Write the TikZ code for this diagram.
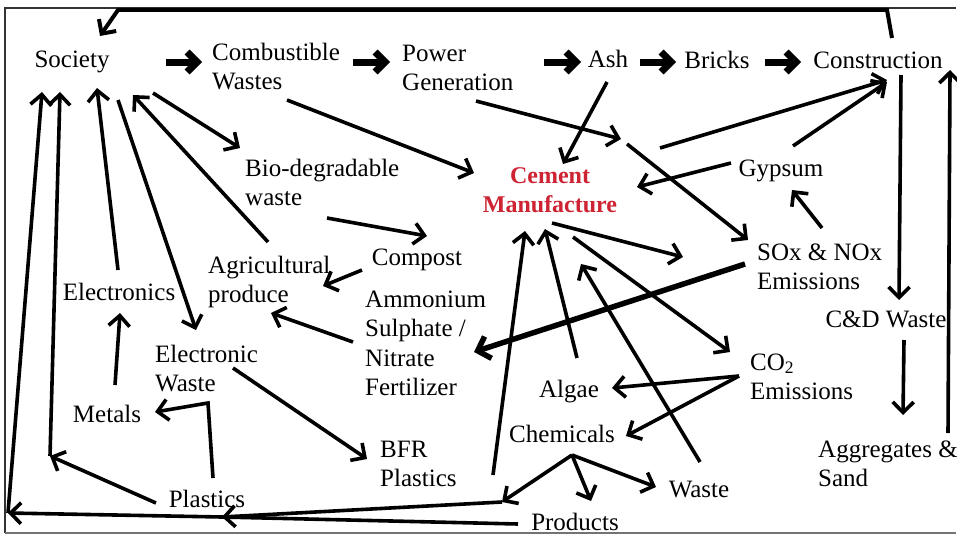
\documentclass[tikz,border=0pt]{standalone}
\usepackage{fontspec}
\setmainfont{Liberation Serif}
\usetikzlibrary{arrows.meta}
\definecolor{cementred}{RGB}{205,35,50}
\begin{document}
\begin{tikzpicture}[x=1pt,y=-1pt,
  lbl/.style={inner sep=0pt, font=\fontsize{25}{29.5}\selectfont},
  ml/.style={lbl, align=left, anchor=north west, yshift=20.65pt},
  sl/.style={lbl, anchor=base},
  cem/.style={inner sep=0pt, align=center, anchor=north, yshift=20.65pt,
    text=cementred, font=\fontsize{24}{29.5}\selectfont\bfseries},
  tip/.tip={Straight Barb[length=10.5pt,width=21pt]},
  arr/.style={line width=3.6pt, -tip},
  plain/.style={line width=3.6pt},
  heavy/.style={line width=5.5pt, -{Straight Barb[length=11pt,width=23pt]}},
  chev/.style={line width=7pt, -{Straight Barb[length=10pt,width=20pt]}},
  frame/.style={line width=1.5pt, draw=black!80}
]
\useasboundingbox (0,0) rectangle (957,535);
\draw[frame] (956,8) -- (5,8) -- (5,533);
\draw[frame, draw=black!55] (5,533) -- (956,533);

% ---- labels ----
\node[sl] (society) at (72,67) {Society};
\node[ml] (comb) at (212,60) {\strut Combustible\\Wastes};
\node[ml] (power) at (402,61) {\strut Power\\Generation};
\node[sl] (ash) at (608,67) {Ash};
\node[sl] (bricks) at (717,68) {Bricks};
\node[sl] (constr) at (878,68) {Construction};
\node[cem] (cement) at (550,183) {\strut Cement\\Manufacture};
\node[ml] (bio) at (245,176) {\strut Bio-degradable\\waste};
\node[sl] (gypsum) at (781,176) {Gypsum};
\node[sl] (compost) at (417,265) {Compost};
\node[ml] (agri) at (208,273) {\strut Agricultural\\produce};
\node[ml] (sox) at (757,260) {\strut SOx \& NOx\\Emissions};
\node[sl] (electronics) at (119,300) {Electronics};
\node[ml] (ammon) at (365,307) {\strut Ammonium\\Sulphate /\\Nitrate\\Fertilizer};
\node[sl] (cdw) at (886,327) {C\&D Waste};
\node[ml] (ewaste) at (155,362) {\strut Electronic\\Waste};
\node[ml] (co2) at (750,370) {\strut CO\textsubscript{2}\\Emissions};
\node[sl] (algae) at (569,397) {Algae};
\node[sl] (metals) at (107,422) {Metals};
\node[sl] (chem) at (562,442) {Chemicals};
\node[ml] (bfr) at (380,457) {\strut BFR\\Plastics};
\node[ml] (aggr) at (818,457) {\strut Aggregates \&\\Sand};
\node[sl] (waste) at (699,497) {Waste};
\node[sl] (plastics) at (207,507) {Plastics};
\node[sl] (products) at (575,530) {Products};

% ---- connector end points ----
\coordinate (constr-top) at (892,38);
\coordinate (cyc-r) at (887,10);
\coordinate (cyc-l) at (118,10);
\coordinate (soc-top) at (100,36);
\coordinate (soc-a) at (42,92);
\coordinate (soc-b) at (60,92);
\coordinate (soc-c) at (97,88);
\coordinate (soc-d) at (118,100);
\coordinate (soc-e) at (133,95);
\coordinate (soc-f) at (153,93);
\coordinate (comb-out) at (287,100);
\coordinate (power-out) at (476,101);
\coordinate (pg-mid) at (621,139);
\coordinate (pg-mid2) at (627,144);
\coordinate (ash-out) at (607,82);
\coordinate (cem-in1) at (474,173);
\coordinate (cem-in2) at (563,164);
\coordinate (cem-in3) at (637,187);
\coordinate (cem-out1) at (660,148);
\coordinate (cem-out2) at (552,223);
\coordinate (cem-out3) at (573,237);
\coordinate (cem-in4) at (545,229);
\coordinate (cem-in5) at (525,231);
\coordinate (cem-in6) at (581,264);
\coordinate (cem-sox) at (683,257);
\coordinate (constr-in1) at (887,80);
\coordinate (constr-in2) at (887,82);
\coordinate (constr-out) at (901,75);
\coordinate (constr-in3) at (950,70);
\coordinate (gyp-out1) at (793,146);
\coordinate (gyp-out2) at (731,163);
\coordinate (gyp-in) at (792,190);
\coordinate (sox-in) at (748,240);
\coordinate (sox-out1) at (822,228);
\coordinate (sox-out2) at (745,264);
\coordinate (ammon-in) at (474,352);
\coordinate (ammon-out) at (353,342);
\coordinate (co2-in) at (730,352);
\coordinate (co2-out) at (739,376);
\coordinate (algae-in) at (612,388);
\coordinate (algae-out) at (577,358);
\coordinate (chem-in) at (626,436);
\coordinate (chem-out) at (572,455);
\coordinate (chem-left) at (502,502);
\coordinate (prod-in) at (591,501);
\coordinate (prod-up) at (493,475);
\coordinate (prod-out) at (518,524);
\coordinate (waste-in) at (656,487);
\coordinate (waste-out) at (700,462);
\coordinate (merge) at (222,517);
\coordinate (corner-bl) at (8,513);
\coordinate (plast-out) at (156,503);
\coordinate (corner-pl) at (50,456);
\coordinate (ew-split) at (208,403);
\coordinate (metals-in) at (155,412);
\coordinate (plast-in) at (213,478);
\coordinate (metals-out) at (115,385);
\coordinate (elec-in) at (120,313);
\coordinate (elec-out) at (118,270);
\coordinate (ew-in) at (196,330);
\coordinate (ew-out) at (233,368);
\coordinate (bfr-in) at (367,459);
\coordinate (agri-out) at (268,242);
\coordinate (agri-in1) at (323,286);
\coordinate (agri-in2) at (271,313);
\coordinate (bio-in) at (240,148);
\coordinate (bio-out) at (327,218);
\coordinate (comp-in) at (427,236);
\coordinate (comp-out) at (362,270);
\coordinate (cdw-in) at (899,300);
\coordinate (cdw-out) at (904,340);
\coordinate (aggr-in) at (903,415);
\coordinate (aggr-out) at (948,433);

% ---- main chain ----
\draw[chev] (166,62) -- (202,62);
\draw[chev] (353,62) -- (390,62);
\draw[chev] (544,62) -- (581,62);
\draw[chev] (640,62) -- (676,62);
\draw[chev] (765,62) -- (801,62);

% ---- return loop over the top ----
\draw[arr, line width=4pt] (constr-top) -- (cyc-r) -- (cyc-l) -- (soc-top);

% ---- flows ----
\draw[arr] (comb-out) -- (cem-in1);
\draw[arr] (power-out) -- (pg-mid);
\draw[arr] (pg-mid2) -- (sox-in);
\draw[arr] (ash-out) -- (cem-in2);
\draw[arr] (cem-out1) -- (constr-in1);
\draw[arr] (gyp-out1) -- (constr-in2);
\draw[arr] (gyp-out2) -- (cem-in3);
\draw[arr] (sox-out1) -- (gyp-in);
\draw[arr] (cem-out2) -- (cem-sox);
\draw[heavy] (sox-out2) -- (ammon-in);
\draw[arr] (cem-out3) -- (co2-in);
\draw[arr] (algae-out) -- (cem-in4);
\draw[arr] (prod-up) -- (cem-in5);
\draw[arr] (waste-out) -- (cem-in6);
\draw[arr] (co2-out) -- (algae-in);
\draw[arr] (co2-out) -- (chem-in);
\draw[arr] (chem-out) -- (chem-left);
\draw[arr] (chem-out) -- (prod-in);
\draw[arr] (chem-out) -- (waste-in);
\draw[arr] (chem-left) -- (merge);
\draw[plain] (prod-out) -- (merge);
\draw[arr] (merge) -- (corner-bl);
\draw[arr] (corner-bl) -- (soc-a);
\draw[arr] (plast-out) -- (corner-pl);
\draw[arr] (corner-pl) -- (soc-b);
\draw[arr, tip-] (metals-in) -- (ew-split) -- (plast-in);
\draw[arr] (metals-out) -- (elec-in);
\draw[arr] (elec-out) -- (soc-c);
\draw[arr] (soc-d) -- (ew-in);
\draw[arr] (agri-out) -- (soc-e);
\draw[arr] (soc-f) -- (bio-in);
\draw[arr] (bio-out) -- (comp-in);
\draw[arr] (comp-out) -- (agri-in1);
\draw[arr] (ammon-out) -- (agri-in2);
\draw[arr] (ew-out) -- (bfr-in);
\draw[arr] (constr-out) -- (cdw-in);
\draw[arr] (cdw-out) -- (aggr-in);
\draw[arr] (aggr-out) -- (constr-in3);
\end{tikzpicture}
\end{document}
